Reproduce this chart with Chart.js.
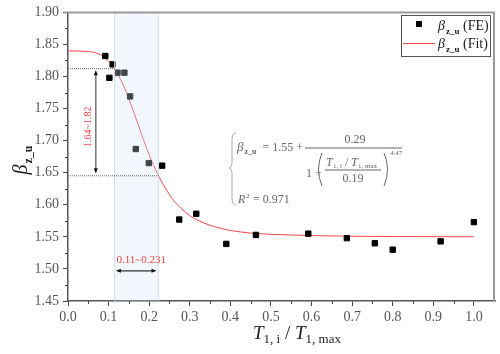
<!DOCTYPE html>
<html>
<head>
<meta charset="utf-8">
<script src="https://cdn.jsdelivr.net/npm/chart.js@4.4.1/dist/chart.umd.min.js"></script>
<style>
  body { margin: 0; background: #fff; }
  #wrap { width: 500px; height: 354px; }
</style>
</head>
<body>
<div id="wrap"><canvas id="grafica" width="500" height="354"></canvas></div>
<script>
// FE results
const feX = [0.092, 0.102, 0.110, 0.122, 0.139, 0.153, 0.167, 0.199, 0.232, 0.274, 0.316, 0.390, 0.463, 0.592, 0.687, 0.756, 0.800, 0.918, 1.000];
const feY = [1.832, 1.798, 1.819, 1.806, 1.806, 1.769, 1.687, 1.665, 1.661, 1.577, 1.586, 1.539, 1.553, 1.555, 1.548, 1.540, 1.530, 1.543, 1.573];

// fitted curve
const fitX = [0, 0.05, 0.08, 0.10, 0.12, 0.14, 0.16, 0.18, 0.20, 0.22, 0.24, 0.26, 0.28, 0.30, 0.33, 0.36, 0.40, 0.45, 0.50, 0.60, 0.70, 0.80, 0.90, 1.00];
const fitY = [1.840, 1.839, 1.834, 1.824, 1.807, 1.781, 1.748, 1.712, 1.678, 1.649, 1.626, 1.607, 1.594, 1.583, 1.573, 1.566, 1.560, 1.556, 1.554, 1.552, 1.551, 1.5505, 1.5503, 1.5502];

const xTicks = [0.0, 0.1, 0.2, 0.3, 0.4, 0.5, 0.6, 0.7, 0.8, 0.9, 1.0];
const yTicks = [1.45, 1.50, 1.55, 1.60, 1.65, 1.70, 1.75, 1.80, 1.85, 1.90];

// shaded range and the two marked levels
const bandRange = [0.115, 0.2225];
const levelRange = [1.646, 1.813];

const serif = "'Liberation Serif', 'DejaVu Serif', serif";
const rojo = '#f04848';

// draws β with subscript z_u, returns end x
function betaZU(ctx, x, y, size, color) {
    ctx.fillStyle = color;
    ctx.textBaseline = 'alphabetic';
    ctx.textAlign = 'left';
    ctx.font = 'italic ' + size + 'px ' + serif;
    ctx.fillText('β', x, y);
    x += ctx.measureText('β').width + 1;
    let sub = Math.round(size * 0.62);
    ctx.font = 'bold ' + sub + 'px ' + serif;
    ctx.fillText('z_u', x, y + size * 0.25);
    return x + ctx.measureText('z_u').width;
}

function widthBeta(ctx, size) {
    ctx.font = 'italic ' + size + 'px ' + serif;
    let w = ctx.measureText('β').width + 1;
    ctx.font = 'bold ' + Math.round(size * 0.62) + 'px ' + serif;
    return w + ctx.measureText('z_u').width;
}

function arrowHead(ctx, x, y, dir) {
    ctx.beginPath();
    if (dir === 'up') { ctx.moveTo(x, y); ctx.lineTo(x - 2, y + 5); ctx.lineTo(x + 2, y + 5); }
    if (dir === 'down') { ctx.moveTo(x, y); ctx.lineTo(x - 2, y - 5); ctx.lineTo(x + 2, y - 5); }
    if (dir === 'left') { ctx.moveTo(x, y); ctx.lineTo(x + 5, y - 2); ctx.lineTo(x + 5, y + 2); }
    if (dir === 'right') { ctx.moveTo(x, y); ctx.lineTo(x - 5, y - 2); ctx.lineTo(x - 5, y + 2); }
    ctx.closePath();
    ctx.fill();
}

const extras = {
    id: 'extras',
    afterDatasetsDraw(chart) {
        const ctx = chart.ctx;
        const xs = chart.scales.x, ys = chart.scales.y;
        const area = chart.chartArea;
        ctx.save();
        // band over the data
        let b0 = xs.getPixelForValue(bandRange[0]);
        let b1 = xs.getPixelForValue(bandRange[1]);
        ctx.fillStyle = 'rgba(210, 230, 250, 0.3)';
        ctx.fillRect(b0, area.top, b1 - b0, area.bottom - area.top);
        ctx.strokeStyle = '#d5dbe2';
        ctx.lineWidth = 1;
        ctx.beginPath();
        ctx.moveTo(b0, area.top); ctx.lineTo(b0, area.bottom);
        ctx.moveTo(b1, area.top); ctx.lineTo(b1, area.bottom);
        ctx.stroke();

        // dotted levels
        let yHi = ys.getPixelForValue(levelRange[1]);
        let yLo = ys.getPixelForValue(levelRange[0]);
        ctx.setLineDash([1, 1]);
        ctx.strokeStyle = '#666';
        ctx.beginPath();
        ctx.moveTo(area.left, yHi + 0.5); ctx.lineTo(xs.getPixelForValue(0.118), yHi + 0.5);
        ctx.moveTo(area.left, yLo + 0.5); ctx.lineTo(xs.getPixelForValue(0.226), yLo + 0.5);
        ctx.stroke();
        ctx.setLineDash([]);

        // vertical double arrow
        let ax = xs.getPixelForValue(0.0685);
        ctx.strokeStyle = '#777';
        ctx.lineWidth = 1.5;
        ctx.beginPath();
        ctx.moveTo(ax, yHi + 3); ctx.lineTo(ax, yLo - 3);
        ctx.stroke();
        ctx.fillStyle = '#111';
        arrowHead(ctx, ax, yHi + 2, 'up');
        arrowHead(ctx, ax, yLo - 2, 'down');
        ctx.save();
        ctx.translate(ax - 7, (yHi + yLo) / 2 + 5);
        ctx.rotate(-Math.PI / 2);
        ctx.fillStyle = rojo;
        ctx.font = '10px ' + serif;
        ctx.textAlign = 'center';
        ctx.textBaseline = 'middle';
        ctx.fillText('1.64~1.82', 0, 0);
        ctx.restore();

        // horizontal double arrow
        let hy = ys.getPixelForValue(1.497);
        let h0 = xs.getPixelForValue(0.118);
        let h1 = xs.getPixelForValue(0.218);
        ctx.strokeStyle = '#333';
        ctx.lineWidth = 1.2;
        ctx.beginPath();
        ctx.moveTo(h0 + 2, hy); ctx.lineTo(h1 - 2, hy);
        ctx.stroke();
        ctx.fillStyle = '#111';
        arrowHead(ctx, h0, hy, 'left');
        arrowHead(ctx, h1, hy, 'right');
        ctx.fillStyle = rojo;
        ctx.font = '11px ' + serif;
        ctx.textAlign = 'center';
        ctx.textBaseline = 'middle';
        ctx.fillText('0.11~0.231', (h0 + h1) / 2 + 5, hy - 11);
        ctx.restore();
    },
    afterDraw(chart) {
        const ctx = chart.ctx;
        const xs = chart.scales.x, ys = chart.scales.y;
        const area = chart.chartArea;
        ctx.save();

        // top and right frame
        ctx.strokeStyle = '#9a9a9a';
        ctx.lineWidth = 2;
        ctx.beginPath();
        ctx.moveTo(area.left - 4, area.top); ctx.lineTo(area.right - 1, area.top); ctx.lineTo(area.right - 1, area.bottom);
        ctx.stroke();

        // minor ticks
        ctx.strokeStyle = '#444';
        ctx.lineWidth = 1;
        ctx.beginPath();
        for (let i = 0; i < xTicks.length - 1; i++) {
            let px = Math.round(xs.getPixelForValue(xTicks[i] + 0.05)) + 0.5;
            ctx.moveTo(px, area.bottom); ctx.lineTo(px, area.bottom + 3);
        }
        for (let i = 0; i < yTicks.length - 1; i++) {
            let py = Math.round(ys.getPixelForValue(yTicks[i] + 0.025)) + 0.5;
            ctx.moveTo(area.left, py); ctx.lineTo(area.left - 3, py);
        }
        ctx.stroke();

        // legend
        ctx.fillStyle = '#fff';
        ctx.fillRect(401, 15, 89, 41);
        ctx.strokeStyle = '#555';
        ctx.lineWidth = 1;
        ctx.strokeRect(401.5, 15.5, 89, 41);
        ctx.fillStyle = '#000';
        ctx.fillRect(416, 21, 6, 6);
        let ex = betaZU(ctx, 438, 30, 14, '#222');
        ctx.font = '14px ' + serif;
        ctx.fillText(' (FE)', ex, 30);
        ctx.strokeStyle = rojo;
        ctx.beginPath();
        ctx.moveTo(403, 43.5); ctx.lineTo(435, 43.5);
        ctx.stroke();
        ex = betaZU(ctx, 438, 48, 14, '#222');
        ctx.font = '14px ' + serif;
        ctx.fillText(' (Fit)', ex, 48);

        // equation
        const gris = '#666';
        ctx.strokeStyle = '#aaa';
        ctx.lineWidth = 1;
        ctx.beginPath();
        ctx.moveTo(236, 133);
        ctx.quadraticCurveTo(232, 133, 232, 140);
        ctx.lineTo(232, 162);
        ctx.quadraticCurveTo(232, 168, 229, 168);
        ctx.quadraticCurveTo(232, 168, 232, 174);
        ctx.lineTo(232, 198);
        ctx.quadraticCurveTo(232, 205, 236, 205);
        ctx.stroke();

        ex = betaZU(ctx, 237, 151, 13, gris);
        ctx.font = '12px ' + serif;
        ctx.fillStyle = gris;
        ctx.textAlign = 'right';
        ctx.fillText('= 1.55 +', 303, 151);
        ctx.textAlign = 'left';
        ctx.fillRect(305, 147.5, 97, 1);
        ctx.textAlign = 'center';
        ctx.fillText('0.29', 355, 143);
        ctx.textAlign = 'left';
        ctx.fillText('1 +', 306, 177);
        // big parentheses
        ctx.strokeStyle = gris;
        ctx.beginPath();
        ctx.moveTo(322, 153); ctx.quadraticCurveTo(315, 169, 322, 186);
        ctx.moveTo(384, 153); ctx.quadraticCurveTo(391, 169, 384, 186);
        ctx.stroke();
        ctx.font = 'italic 12px ' + serif;
        ctx.fillText('T', 326, 166);
        ctx.font = '7px ' + serif;
        ctx.fillText('1, i', 333, 168);
        ctx.font = '12px ' + serif;
        ctx.fillText('/', 345, 166);
        ctx.font = 'italic 12px ' + serif;
        ctx.fillText('T', 351, 166);
        ctx.font = '7px ' + serif;
        ctx.fillText('1, max', 358, 168);
        ctx.fillRect(325, 169.5, 56, 1);
        ctx.font = '12px ' + serif;
        ctx.textAlign = 'center';
        ctx.fillText('0.19', 353, 182);
        ctx.textAlign = 'left';
        ctx.font = '7px ' + serif;
        ctx.fillText('4.47', 390, 155);
        ctx.font = 'italic 12px ' + serif;
        ctx.fillText('R', 238, 203);
        ctx.font = '7px ' + serif;
        ctx.fillText('2', 246, 198);
        ctx.font = '12px ' + serif;
        ctx.fillText(' = 0.971', 250, 203);

        // y axis title
        ctx.save();
        ctx.translate(27, 160);
        ctx.rotate(-Math.PI / 2);
        let wb = widthBeta(ctx, 20);
        betaZU(ctx, -wb / 2, 0, 20, '#222');
        ctx.restore();

        // x axis title
        const parts = [
            ['italic 19px ', 'T', 0], ['13px ', '1, i', 4], ['19px ', ' / ', 0],
            ['italic 19px ', 'T', 0], ['13px ', '1, max', 4]
        ];
        let total = 0;
        parts.forEach(p => { ctx.font = p[0] + serif; total += ctx.measureText(p[1]).width; });
        let tx = 297 - total / 2;
        ctx.fillStyle = '#222';
        ctx.textAlign = 'left';
        parts.forEach(p => {
            ctx.font = p[0] + serif;
            ctx.fillText(p[1], tx, 339 + p[2]);
            tx += ctx.measureText(p[1]).width;
        });
        ctx.restore();
    }
};

const ctx = document.getElementById('grafica').getContext('2d');
const grafica = new Chart(ctx, {
    type: 'scatter',
    data: {
        datasets: [
            {
                label: 'FE',
                data: feX.map((x, i) => ({ x: x, y: feY[i] })),
                pointStyle: 'rect',
                pointRadius: 3.8,
                pointBorderWidth: 1,
                backgroundColor: '#000',
                borderColor: '#000',
                order: 1
            },
            {
                label: 'Fit',
                type: 'line',
                data: fitX.map((x, i) => ({ x: x, y: fitY[i] })),
                borderColor: rojo,
                borderWidth: 1,
                pointRadius: 0,
                cubicInterpolationMode: 'monotone',
                fill: false,
                order: 2
            }
        ]
    },
    options: {
        responsive: false,
        animation: false,
        layout: { padding: { top: 10, right: 2, left: 0, bottom: 0 } },
        plugins: { legend: { display: false }, tooltip: { enabled: false } },
        scales: {
            x: {
                type: 'linear',
                min: 0,
                max: 1.052,
                afterBuildTicks: s => { s.ticks = xTicks.map(v => ({ value: v })); },
                afterFit: s => { s.height = 53; },
                ticks: {
                    callback: v => v.toFixed(1),
                    font: { family: serif, size: 14 },
                    color: '#555',
                    padding: 3,
                    maxRotation: 0
                },
                grid: { drawOnChartArea: false, tickLength: 5, color: '#444' },
                border: { color: '#555', width: 1.5 }
            },
            y: {
                min: 1.45,
                max: 1.90,
                afterBuildTicks: s => { s.ticks = yTicks.map(v => ({ value: v })); },
                afterFit: s => { s.width = 68; },
                ticks: {
                    callback: v => v.toFixed(2),
                    font: { family: serif, size: 14 },
                    color: '#555',
                    padding: 4
                },
                grid: { drawOnChartArea: false, tickLength: 5, color: '#444' },
                border: { color: '#555', width: 1.5 }
            }
        }
    },
    plugins: [extras]
});
</script>
</body>
</html>
